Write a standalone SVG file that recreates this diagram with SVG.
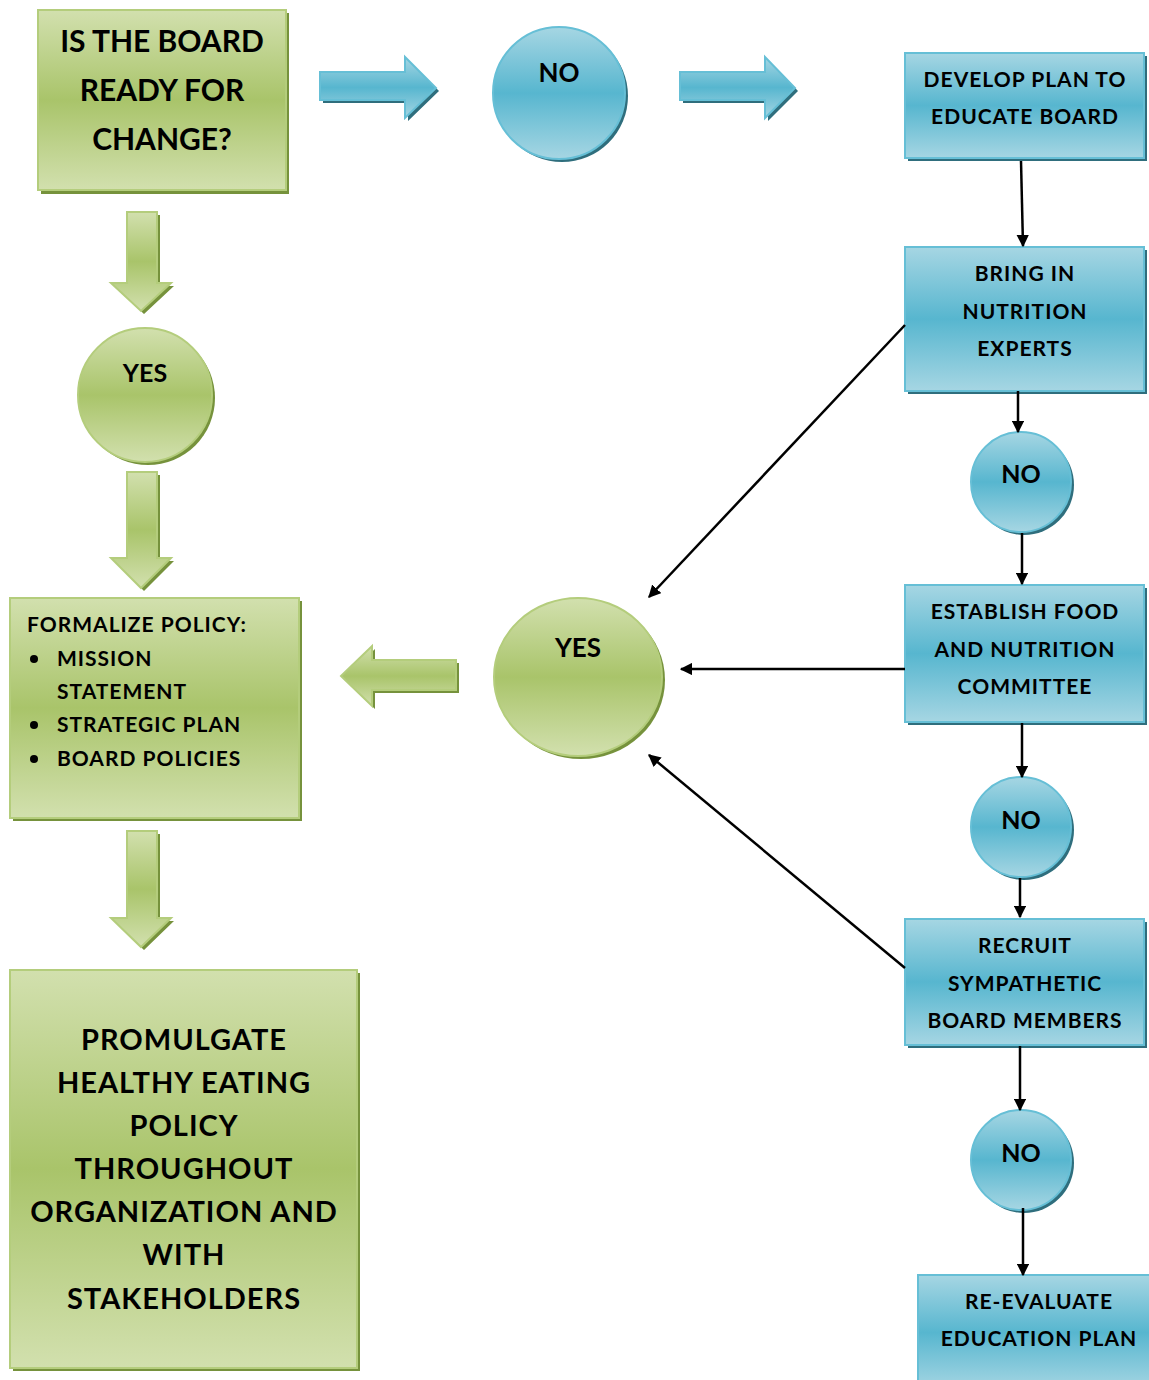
<svg xmlns="http://www.w3.org/2000/svg" width="1149" height="1380" viewBox="0 0 1149 1380">
<defs>
<linearGradient id="gG" x1="0" y1="0" x2="0" y2="1">
<stop offset="0" stop-color="#d2e0ae"/><stop offset="0.5" stop-color="#a9c46a"/><stop offset="1" stop-color="#d2e0ae"/>
</linearGradient>
<linearGradient id="gB" x1="0" y1="0" x2="0" y2="1">
<stop offset="0" stop-color="#a6d6e3"/><stop offset="0.5" stop-color="#57b6cf"/><stop offset="1" stop-color="#a6d6e3"/>
</linearGradient>
<marker id="ah" viewBox="0 0 10 10" refX="9" refY="5" markerWidth="5" markerHeight="5" orient="auto" markerUnits="strokeWidth">
<path d="M0,0 L10,5 L0,10 z" fill="#000"/>
</marker>
<style>
.g{fill:url(#gG);stroke:#b4cd7c;stroke-width:2}
.gs{fill:#76923c}
.b{fill:url(#gB);stroke:#66bfd6;stroke-width:2}
.bs{fill:#2f6e7d}
text{font-family:Lato,"Open Sans","Liberation Sans",sans-serif;font-weight:bold;fill:#000;text-anchor:middle}
.s{letter-spacing:1px}
.l{text-anchor:start;letter-spacing:1px}
.c{stroke:#000;stroke-width:2.5;fill:none;marker-end:url(#ah)}
</style>
</defs>

<g id="n-board-ready">
<rect class="gs" x="41" y="13" width="248" height="181"/>
<rect class="g" x="38" y="10" width="248" height="180"/>
<text x="162" y="52" font-size="30">IS THE BOARD</text>
<text x="162" y="101" font-size="30">READY FOR</text>
<text x="162" y="150" font-size="30">CHANGE?</text>
</g>

<g id="a-right-1">
<polygon class="bs" transform="translate(3,3)" points="320,72 405,72 405,57 436,88 405,118 405,100 320,100"/>
<polygon class="b" stroke-width="1" points="320,72 405,72 405,57 436,88 405,118 405,100 320,100"/>
</g>

<g id="n-no-top">
<circle class="bs" cx="562" cy="96" r="66"/>
<circle class="b" cx="559" cy="93" r="66"/>
<text x="559" y="82" font-size="26">NO</text>
</g>

<g id="a-right-2">
<polygon class="bs" transform="translate(3,3)" points="680,72 765,72 765,57 795,88 765,118 765,100 680,100"/>
<polygon class="b" stroke-width="1" points="680,72 765,72 765,57 795,88 765,118 765,100 680,100"/>
</g>

<g id="n-develop-plan">
<rect class="bs" x="908" y="56" width="239" height="105"/>
<rect class="b" x="905" y="53" width="239" height="105"/>
<text class="s" x="1025" y="87" font-size="21">DEVELOP PLAN TO</text>
<text class="s" x="1025" y="124" font-size="21">EDUCATE BOARD</text>
</g>

<g id="n-bring-experts">
<rect class="bs" x="908" y="250" width="239" height="144"/>
<rect class="b" x="905" y="247" width="239" height="144"/>
<text class="s" x="1025" y="281" font-size="21">BRING IN</text>
<text class="s" x="1025" y="319" font-size="21">NUTRITION</text>
<text class="s" x="1025" y="356" font-size="21">EXPERTS</text>
</g>

<g id="n-no-1">
<circle class="bs" cx="1024" cy="485" r="50"/>
<circle class="b" cx="1021" cy="482" r="50"/>
<text x="1021" y="483" font-size="25">NO</text>
</g>

<g id="n-establish">
<rect class="bs" x="908" y="588" width="239" height="137"/>
<rect class="b" x="905" y="585" width="239" height="137"/>
<text class="s" x="1025" y="619" font-size="21">ESTABLISH FOOD</text>
<text class="s" x="1025" y="657" font-size="21">AND NUTRITION</text>
<text class="s" x="1025" y="694" font-size="21">COMMITTEE</text>
</g>

<g id="n-no-2">
<circle class="bs" cx="1024" cy="830" r="50"/>
<circle class="b" cx="1021" cy="827" r="50"/>
<text x="1021" y="829" font-size="25">NO</text>
</g>

<g id="n-recruit">
<rect class="bs" x="908" y="922" width="239" height="126"/>
<rect class="b" x="905" y="919" width="239" height="126"/>
<text class="s" x="1025" y="953" font-size="21">RECRUIT</text>
<text class="s" x="1025" y="991" font-size="21">SYMPATHETIC</text>
<text class="s" x="1025" y="1028" font-size="21">BOARD MEMBERS</text>
</g>

<g id="n-no-3">
<circle class="bs" cx="1024" cy="1163" r="50"/>
<circle class="b" cx="1021" cy="1160" r="50"/>
<text x="1021" y="1162" font-size="25">NO</text>
</g>

<g id="n-reevaluate">
<rect class="b" x="918" y="1275" width="240" height="115"/>
<text class="s" x="1039" y="1309" font-size="21">RE-EVALUATE</text>
<text class="s" x="1039" y="1346" font-size="21">EDUCATION PLAN</text>
</g>

<g id="a-down-1">
<polygon class="gs" transform="translate(3,3)" points="127,212 157,212 157,283 171,283 141,311 111,283 127,283"/>
<polygon class="g" stroke-width="1" points="127,212 157,212 157,283 171,283 141,311 111,283 127,283"/>
</g>

<g id="n-yes-small">
<circle class="gs" cx="148" cy="398" r="67"/>
<circle class="g" cx="145" cy="395" r="67"/>
<text x="145" y="382" font-size="25">YES</text>
</g>

<g id="a-down-2">
<polygon class="gs" transform="translate(3,3)" points="127,472 157,472 157,558 171,558 141,588 111,558 127,558"/>
<polygon class="g" stroke-width="1" points="127,472 157,472 157,558 171,558 141,588 111,558 127,558"/>
</g>

<g id="n-formalize">
<rect class="gs" x="13" y="601" width="289" height="220"/>
<rect class="g" x="10" y="598" width="289" height="220"/>
<text class="l" x="27" y="632" font-size="21">FORMALIZE POLICY:</text>
<circle cx="34" cy="659" r="4" fill="#000"/>
<text class="l" x="57" y="666" font-size="21">MISSION</text>
<text class="l" x="57" y="699" font-size="21">STATEMENT</text>
<circle cx="34" cy="725" r="4" fill="#000"/>
<text class="l" x="57" y="732" font-size="21">STRATEGIC PLAN</text>
<circle cx="34" cy="759" r="4" fill="#000"/>
<text class="l" x="57" y="766" font-size="21">BOARD POLICIES</text>
</g>

<g id="a-left">
<polygon class="gs" transform="translate(3,3)" points="456,660 372,660 372,646 341,676 372,706 372,690 456,690"/>
<polygon class="g" stroke-width="1" points="456,660 372,660 372,646 341,676 372,706 372,690 456,690"/>
</g>

<g id="n-yes-big">
<ellipse class="gs" cx="581" cy="680" rx="84" ry="79"/>
<ellipse class="g" cx="578" cy="677" rx="84" ry="79"/>
<text x="578" y="657" font-size="26">YES</text>
</g>

<g id="a-down-3">
<polygon class="gs" transform="translate(3,3)" points="127,831 157,831 157,918 171,918 141,947 111,918 127,918"/>
<polygon class="g" stroke-width="1" points="127,831 157,831 157,918 171,918 141,947 111,918 127,918"/>
</g>

<g id="n-promulgate">
<rect class="gs" x="13" y="973" width="347" height="398"/>
<rect class="g" x="10" y="970" width="347" height="398"/>
<text class="s" x="184" y="1050" font-size="29">PROMULGATE</text>
<text class="s" x="184" y="1093" font-size="29">HEALTHY EATING</text>
<text class="s" x="184" y="1136" font-size="29">POLICY</text>
<text class="s" x="184" y="1179" font-size="29">THROUGHOUT</text>
<text class="s" x="184" y="1222" font-size="29">ORGANIZATION AND</text>
<text class="s" x="184" y="1265" font-size="29">WITH</text>
<text class="s" x="184" y="1309" font-size="29">STAKEHOLDERS</text>
</g>

<g id="connectors">
<line class="c" x1="1021" y1="161" x2="1023" y2="246"/>
<line class="c" x1="1018" y1="391" x2="1018" y2="432"/>
<line class="c" x1="1022" y1="533" x2="1022" y2="584"/>
<line class="c" x1="1022" y1="723" x2="1022" y2="777"/>
<line class="c" x1="1020" y1="878" x2="1020" y2="917"/>
<line class="c" x1="1020" y1="1046" x2="1020" y2="1110"/>
<line class="c" x1="1023" y1="1208" x2="1023" y2="1275"/>
<line class="c" x1="905" y1="325" x2="649" y2="597"/>
<line class="c" x1="905" y1="669" x2="681" y2="669"/>
<line class="c" x1="905" y1="968" x2="649" y2="755"/>
</g>
</svg>
